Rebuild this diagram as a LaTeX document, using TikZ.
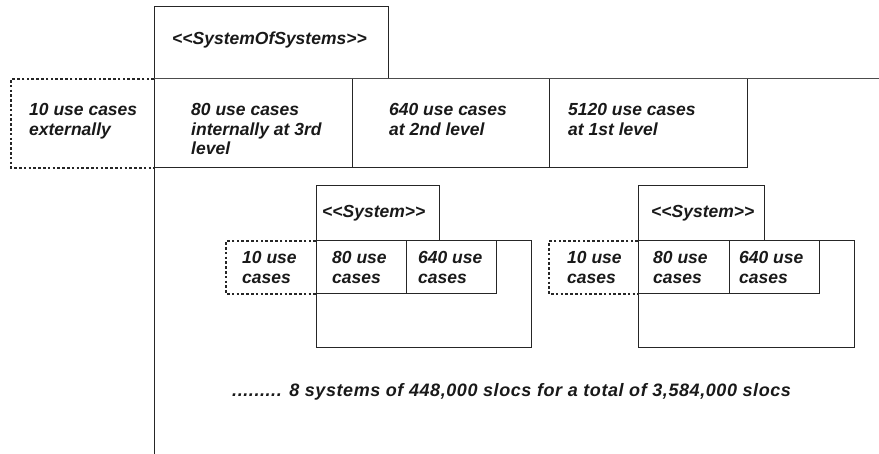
\documentclass[tikz,border=0pt]{standalone}
\usepackage{fontspec}
\setmainfont{Liberation Sans}
\begin{document}
\begin{tikzpicture}[x=1pt,y=-1pt,
  box/.style={draw=black!85,line width=1pt},
  dbox/.style={draw=black!85,line width=1.2pt,dash pattern=on 2.6pt off 2.2pt},
  lbl/.style={anchor=base west,inner sep=0pt,align=left,font=\fontsize{17.5}{19.5}\selectfont\bfseries\itshape,text=black!90},
  note/.style={anchor=base west,inner sep=0pt,font=\fontsize{18}{20}\selectfont\bfseries\itshape,text=black!90}]
\useasboundingbox (0,0) rectangle (879,454);
% system of systems frame
\draw[box] (154,454) -- (154,7) -- (388,7) -- (388,79);
\draw[box,draw=black!70] (154,79) -- (879,79);
\draw[box] (154,168) -- (747,168) -- (747,79);
\draw[box] (352,79) -- (352,168);
\draw[box] (549,79) -- (549,168);
\draw[dbox] (154,79) -- (11,79) -- (11,168) -- (154,168);
\node[lbl] (sos) at (172,45) {<{}<SystemOfSystems>{}>};
\node[lbl] (ext) at (29,135.5) {10 use cases\\externally};
\node[lbl] (c80) at (191,155) {80 use cases\\internally at 3rd\\level};
\node[lbl] (c640) at (389,135.5) {640 use cases\\at 2nd level};
\node[lbl] (c5120) at (568,135.5) {5120 use cases\\at 1st level};
% system 1
\draw[box] (316,241) -- (316,186) -- (439,186) -- (439,241);
\draw[box] (316,241) rectangle (531,348);
\draw[box] (316,241) rectangle (406,294);
\draw[box] (406,241) rectangle (496,294);
\draw[dbox] (316,241) -- (226,241) -- (226,294) -- (316,294);
\node[lbl] (s1) at (322,218) {<{}<System>{}>};
\node[lbl] (s1a) at (242,283.5) {10 use\\cases};
\node[lbl] (s1b) at (332,283.5) {80 use\\cases};
\node[lbl] (s1c) at (418,283.5) {640 use\\cases};
% system 2
\draw[box] (638,241) -- (638,186) -- (764,186) -- (764,241);
\draw[box] (638,241) rectangle (854,348);
\draw[box] (638,241) rectangle (729,294);
\draw[box] (729,241) rectangle (819,294);
\draw[dbox] (638,241) -- (549,241) -- (549,294) -- (638,294);
\node[lbl] (s2) at (651,218) {<{}<System>{}>};
\node[lbl] (s2a) at (567,283.5) {10 use\\cases};
\node[lbl] (s2b) at (653,283.5) {80 use\\cases};
\node[lbl] (s2c) at (739,283.5) {640 use\\cases};
% note
\node[note] (tot) at (232,397) {\addfontfeature{LetterSpace=3.2}......... 8 systems of 448,000 slocs for a total of 3,584,000 slocs};
\end{tikzpicture}
\end{document}
